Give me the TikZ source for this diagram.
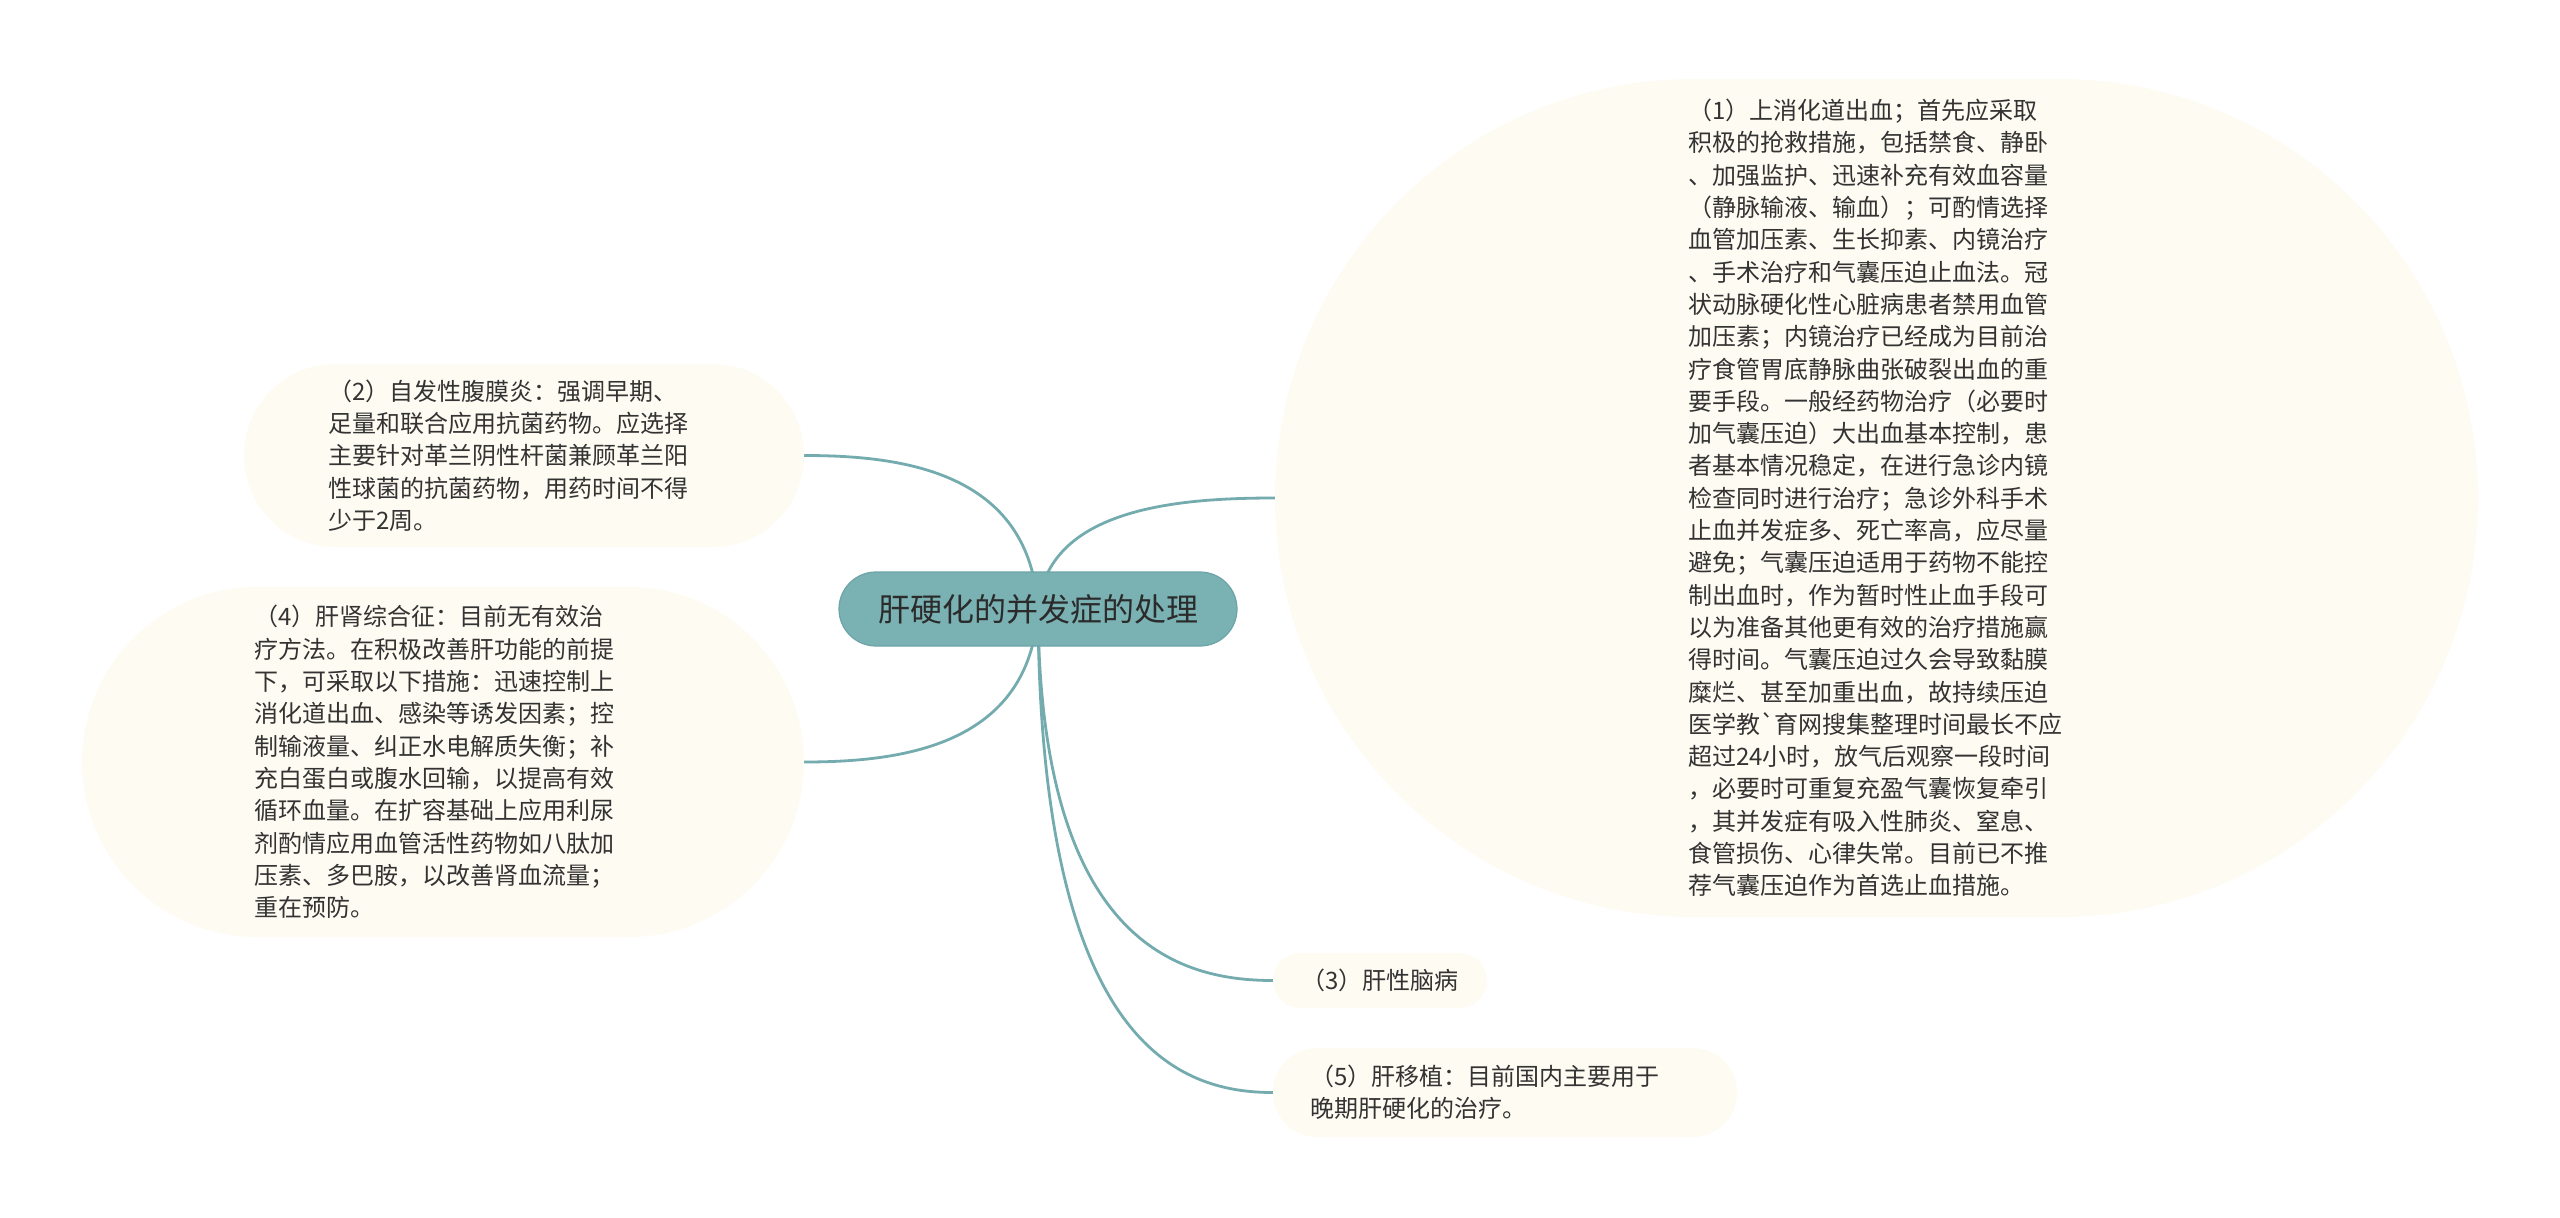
\documentclass[tikz,border=0pt]{standalone}
\usepackage{fontspec}
\setmainfont{Noto Sans CJK SC}[Ligatures=TeXOff]
\usetikzlibrary{backgrounds}

\definecolor{teal}{HTML}{7AB2B4}
\definecolor{tealline}{HTML}{74ABAE}
\definecolor{tealedge}{HTML}{6CA4A7}
\definecolor{cream}{HTML}{FDFBF2}
\definecolor{txt}{HTML}{333333}

\begin{document}
\begin{tikzpicture}[x=1pt,y=-1pt,
    maintopic/.style ={rectangle, rounded corners=37pt, fill=teal, draw=tealedge, line width=1.2pt,
      minimum width=398pt, minimum height=74pt, text=txt!85!black,
      font=\fontsize{32}{38}\selectfont},
    subtopic/.style ={rectangle, fill=cream, text=txt, align=left,
      font=\fontsize{24}{32.3}\selectfont},
    branch/.style ={draw=tealline, line width=2.8pt}]
   \useasboundingbox (0,0) rectangle (2560,1218);

   \node[maintopic] (root) at (1038,609) {肝硬化的并发症的处理};

   \node[subtopic, minimum width=1203pt, minimum height=838pt, rounded corners=419pt,
     text width=377pt] (bleed) at (1876.5,498) {%
     （1）上消化道出血；首先应采取\\
     积极的抢救措施，包括禁食、静卧\\
     、加强监护、迅速补充有效血容量\\
     （静脉输液、输血）；可酌情选择\\
     血管加压素、生长抑素、内镜治疗\\
     、手术治疗和气囊压迫止血法。冠\\
     状动脉硬化性心脏病患者禁用血管\\
     加压素；内镜治疗已经成为目前治\\
     疗食管胃底静脉曲张破裂出血的重\\
     要手段。一般经药物治疗（必要时\\
     加气囊压迫）大出血基本控制，患\\
     者基本情况稳定，在进行急诊内镜\\
     检查同时进行治疗；急诊外科手术\\
     止血并发症多、死亡率高，应尽量\\
     避免；气囊压迫适用于药物不能控\\
     制出血时，作为暂时性止血手段可\\
     以为准备其他更有效的治疗措施赢\\
     得时间。气囊压迫过久会导致黏膜\\
     糜烂、甚至加重出血，故持续压迫\\
     医学教`育网搜集整理时间最长不应\\
     超过24小时，放气后观察一段时间\\
     ，必要时可重复充盈气囊恢复牵引\\
     ，其并发症有吸入性肺炎、窒息、\\
     食管损伤、心律失常。目前已不推\\
     荐气囊压迫作为首选止血措施。};

   \node[subtopic, minimum width=560pt, minimum height=183pt, rounded corners=91pt,
     text width=392pt] (peritonitis) at (524,455.5) {%
     （2）自发性腹膜炎：强调早期、\\
     足量和联合应用抗菌药物。应选择\\
     主要针对革兰阴性杆菌兼顾革兰阳\\
     性球菌的抗菌药物，用药时间不得\\
     少于2周。};

   \node[subtopic, minimum width=214pt, minimum height=55pt, rounded corners=27pt]
     (encephal) at (1380,980.5) {（3）肝性脑病};

   \node[subtopic, minimum width=722pt, minimum height=350pt, rounded corners=175pt,
     text width=378pt] (hepatorenal) at (443,762) {%
     （4）肝肾综合征：目前无有效治\\
     疗方法。在积极改善肝功能的前提\\
     下，可采取以下措施：迅速控制上\\
     消化道出血、感染等诱发因素；控\\
     制输液量、纠正水电解质失衡；补\\
     充白蛋白或腹水回输，以提高有效\\
     循环血量。在扩容基础上应用利尿\\
     剂酌情应用血管活性药物如八肽加\\
     压素、多巴胺，以改善肾血流量；\\
     重在预防。};

   \node[subtopic, minimum width=464pt, minimum height=89pt, rounded corners=44pt,
     text width=390pt] (transplant) at (1505,1092.5) {%
     （5）肝移植：目前国内主要用于\\
     晚期肝硬化的治疗。};

   \begin{scope}[on background layer]
   \draw[branch] (root.center) .. controls +(8,-102) and +(-94,0) .. (bleed.west);
   \draw[branch] (root.center) .. controls +(-8,-139) and +(95,0) .. (peritonitis.east);
   \draw[branch] (root.center) .. controls +(2,334) and +(-94,0) .. (encephal.west);
   \draw[branch] (root.center) .. controls +(-8,138) and +(95,0) .. (hepatorenal.east);
   \draw[branch] (root.center) .. controls +(2,436) and +(-94,0) .. (transplant.west);
   \end{scope}
 \end{tikzpicture}
\end{document}
